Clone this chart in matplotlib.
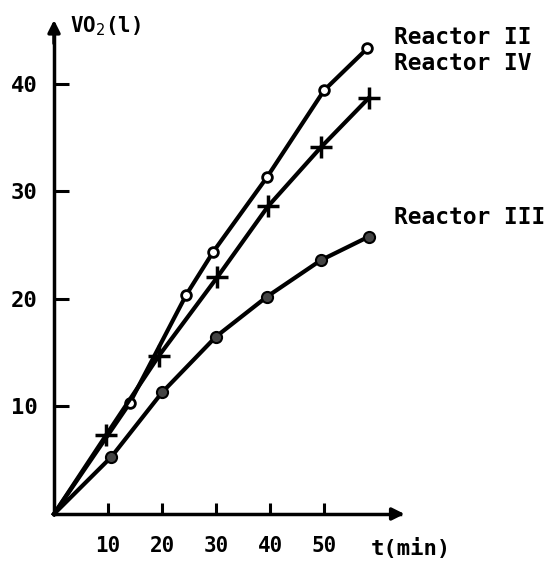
import matplotlib.pyplot as plt

# values (t in min, VO2 in litres)
t_ii = [0, 14.0, 24.5, 29.5, 39.4, 50.0, 58.0]
v_ii = [0, 10.3, 20.4, 24.4, 31.3, 39.4, 43.3]

t_iv = [0, 9.6, 19.4, 30.2, 39.6, 49.4, 58.3]
v_iv = [0, 7.3, 14.7, 22.0, 28.6, 34.1, 38.7]

t_iii = [0, 10.6, 20.0, 30.0, 39.4, 49.4, 58.3]
v_iii = [0, 5.3, 11.3, 16.5, 20.2, 23.6, 25.8]

x_ticks = [10, 20, 30, 40, 50]
y_ticks = [10, 20, 30, 40]

plt.rcParams["font.family"] = ["DejaVu Sans Mono"]

fig = plt.figure(figsize=(5.58, 5.67), dpi=100)
ax = fig.add_axes([0, 0, 1, 1])
ax.set_xlim(-10.0, 93.3)
ax.set_ylim(-4.93, 47.8)

# axes through the origin
for side in ["top", "right"]:
    ax.spines[side].set_visible(False)
ax.spines["left"].set_position(("data", 0))
ax.spines["bottom"].set_position(("data", 0))
ax.spines["left"].set_bounds(0, 44.5)
ax.spines["bottom"].set_bounds(0, 64)
ax.spines["left"].set_linewidth(2.5)
ax.spines["bottom"].set_linewidth(2.5)
ax.annotate("", xy=(0, 46.2), xytext=(0, 43.5),
            arrowprops=dict(arrowstyle="-|>", lw=2.5, color="black", mutation_scale=18))
ax.annotate("", xy=(65.4, 0), xytext=(62, 0),
            arrowprops=dict(arrowstyle="-|>", lw=2.5, color="black", mutation_scale=18))

ax.set_xticks(x_ticks)
ax.set_yticks(y_ticks)
ax.tick_params(axis="x", direction="in", length=8, width=2.2, pad=16, labelsize=15)
ax.tick_params(axis="y", direction="in", length=11, width=2.2, pad=12, labelsize=16)
for lab in ax.get_xticklabels() + ax.get_yticklabels():
    lab.set_fontweight("bold")

# curves (no marker at the origin)
pts = slice(1, None)
ax.plot(t_ii, v_ii, color="black", lw=3, marker="o", ms=7, markevery=pts,
        mfc="white", mec="black", mew=2, zorder=3)
ax.plot(t_iv, v_iv, color="black", lw=3, marker="+", ms=16, mew=2.5,
        markevery=pts, zorder=3)
ax.plot(t_iii, v_iii, color="black", lw=3, marker="o", ms=8, markevery=pts,
        mfc="#444444", mec="black", mew=1.5, zorder=3)

# labels
ax.text(3, 45.4, "VO$_2$(l)", fontsize=15, fontweight="bold", va="center", ha="left")
ax.text(58.7, -3.2, "t(min)", fontsize=16, fontweight="bold", va="center", ha="left")
ax.text(63, 44.3, "Reactor II", fontsize=16.5, fontweight="bold", va="center")
ax.text(63, 41.9, "Reactor IV", fontsize=16.5, fontweight="bold", va="center")
ax.text(63, 27.6, "Reactor III", fontsize=16.5, fontweight="bold", va="center")

fig.savefig("out.png", dpi=100, facecolor="white")
